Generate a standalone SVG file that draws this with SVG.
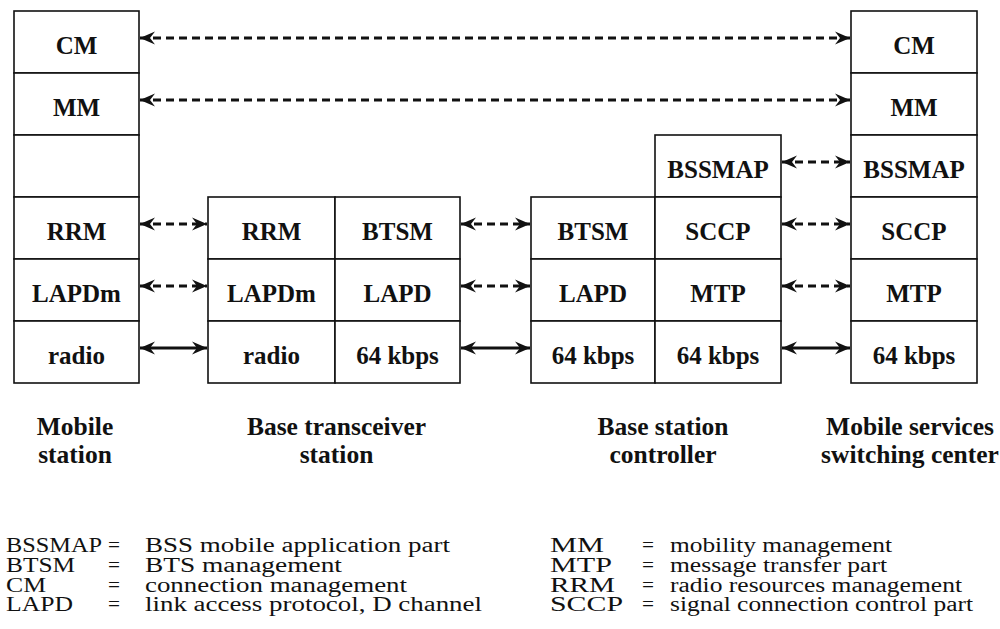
<svg xmlns="http://www.w3.org/2000/svg" width="1000" height="629" viewBox="0 0 1000 629">
<defs>
<style>
.box{fill:#fff;stroke:#111;stroke-width:1.6}
.lbl{font-family:"Liberation Serif","Times New Roman",serif;font-weight:bold;font-size:25px;text-anchor:middle;fill:#111}
.cap{font-family:"Liberation Serif","Times New Roman",serif;font-weight:bold;font-size:25.5px;text-anchor:middle;fill:#111}
.leg{font-family:"Liberation Serif","Times New Roman",serif;font-size:20.5px;fill:#111}
.dash{stroke:#111;stroke-width:3;stroke-dasharray:8 5;fill:none}
.solid{stroke:#111;stroke-width:3;fill:none}
</style>
<marker id="ah" viewBox="-16 -8 18 16" refX="0" refY="0" markerWidth="18" markerHeight="16" markerUnits="userSpaceOnUse" orient="auto-start-reverse">
<path d="M0,0 L-15,-6.5 L-10,0 L-15,6.5 Z" fill="#111" stroke="none"/>
</marker>
</defs>
<rect width="1000" height="629" fill="#fff"/>

<g id="ms">
<rect class="box" x="14" y="11" width="125" height="62"/>
<rect class="box" x="14" y="73" width="125" height="62"/>
<rect class="box" x="14" y="135" width="125" height="62"/>
<rect class="box" x="14" y="197" width="125" height="62"/>
<rect class="box" x="14" y="259" width="125" height="62"/>
<rect class="box" x="14" y="321" width="125" height="62"/>
<text class="lbl" x="76.5" y="54">CM</text>
<text class="lbl" x="76.5" y="116">MM</text>
<text class="lbl" x="76.5" y="240">RRM</text>
<text class="lbl" x="76.5" y="302">LAPDm</text>
<text class="lbl" x="76.5" y="364">radio</text>
<text class="cap" x="75" y="435">Mobile</text>
<text class="cap" x="75" y="463">station</text>
</g>

<g id="bts">
<rect class="box" x="208" y="197" width="127" height="62"/>
<rect class="box" x="335" y="197" width="125" height="62"/>
<rect class="box" x="208" y="259" width="127" height="62"/>
<rect class="box" x="335" y="259" width="125" height="62"/>
<rect class="box" x="208" y="321" width="127" height="62"/>
<rect class="box" x="335" y="321" width="125" height="62"/>
<text class="lbl" x="271.5" y="240">RRM</text>
<text class="lbl" x="397.5" y="240">BTSM</text>
<text class="lbl" x="271.5" y="302">LAPDm</text>
<text class="lbl" x="397.5" y="302">LAPD</text>
<text class="lbl" x="271.5" y="364">radio</text>
<text class="lbl" x="397.5" y="364">64 kbps</text>
<text class="cap" x="336.5" y="435">Base transceiver</text>
<text class="cap" x="336.5" y="463">station</text>
</g>

<g id="bsc">
<rect class="box" x="655" y="135" width="126" height="62"/>
<rect class="box" x="531" y="197" width="124" height="62"/>
<rect class="box" x="655" y="197" width="126" height="62"/>
<rect class="box" x="531" y="259" width="124" height="62"/>
<rect class="box" x="655" y="259" width="126" height="62"/>
<rect class="box" x="531" y="321" width="124" height="62"/>
<rect class="box" x="655" y="321" width="126" height="62"/>
<text class="lbl" x="718" y="178">BSSMAP</text>
<text class="lbl" x="593" y="240">BTSM</text>
<text class="lbl" x="718" y="240">SCCP</text>
<text class="lbl" x="593" y="302">LAPD</text>
<text class="lbl" x="718" y="302">MTP</text>
<text class="lbl" x="593" y="364">64 kbps</text>
<text class="lbl" x="718" y="364">64 kbps</text>
<text class="cap" x="663" y="435">Base station</text>
<text class="cap" x="663" y="463">controller</text>
</g>

<g id="msc">
<rect class="box" x="851" y="11" width="126" height="62"/>
<rect class="box" x="851" y="73" width="126" height="62"/>
<rect class="box" x="851" y="135" width="126" height="62"/>
<rect class="box" x="851" y="197" width="126" height="62"/>
<rect class="box" x="851" y="259" width="126" height="62"/>
<rect class="box" x="851" y="321" width="126" height="62"/>
<text class="lbl" x="914" y="54">CM</text>
<text class="lbl" x="914" y="116">MM</text>
<text class="lbl" x="914" y="178">BSSMAP</text>
<text class="lbl" x="914" y="240">SCCP</text>
<text class="lbl" x="914" y="302">MTP</text>
<text class="lbl" x="914" y="364">64 kbps</text>
<text class="cap" x="910" y="435">Mobile services</text>
<text class="cap" x="910" y="463">switching center</text>
</g>

<g id="connectors">
<line class="dash" x1="140" y1="38" x2="850" y2="38" marker-start="url(#ah)" marker-end="url(#ah)"/>
<line class="dash" x1="140" y1="100" x2="850" y2="100" marker-start="url(#ah)" marker-end="url(#ah)"/>
<line class="dash" x1="140" y1="224" x2="207" y2="224" marker-start="url(#ah)" marker-end="url(#ah)"/>
<line class="dash" x1="140" y1="286" x2="207" y2="286" marker-start="url(#ah)" marker-end="url(#ah)"/>
<line class="solid" x1="140" y1="348" x2="207" y2="348" marker-start="url(#ah)" marker-end="url(#ah)"/>
<line class="dash" x1="461" y1="224" x2="530" y2="224" marker-start="url(#ah)" marker-end="url(#ah)"/>
<line class="dash" x1="461" y1="286" x2="530" y2="286" marker-start="url(#ah)" marker-end="url(#ah)"/>
<line class="solid" x1="461" y1="348" x2="530" y2="348" marker-start="url(#ah)" marker-end="url(#ah)"/>
<line class="dash" x1="782" y1="162" x2="850" y2="162" marker-start="url(#ah)" marker-end="url(#ah)"/>
<line class="dash" x1="782" y1="224" x2="850" y2="224" marker-start="url(#ah)" marker-end="url(#ah)"/>
<line class="dash" x1="782" y1="286" x2="850" y2="286" marker-start="url(#ah)" marker-end="url(#ah)"/>
<line class="solid" x1="782" y1="348" x2="850" y2="348" marker-start="url(#ah)" marker-end="url(#ah)"/>
</g>

<g id="legend">
<text class="leg" x="6" y="552" textLength="96" lengthAdjust="spacingAndGlyphs">BSSMAP</text>
<text class="leg" x="108" y="552" textLength="12" lengthAdjust="spacingAndGlyphs">=</text>
<text class="leg" x="145" y="552" textLength="305" lengthAdjust="spacingAndGlyphs">BSS mobile application part</text>
<text class="leg" x="6" y="572" textLength="69" lengthAdjust="spacingAndGlyphs">BTSM</text>
<text class="leg" x="108" y="572" textLength="12" lengthAdjust="spacingAndGlyphs">=</text>
<text class="leg" x="145" y="572" textLength="197" lengthAdjust="spacingAndGlyphs">BTS management</text>
<text class="leg" x="6" y="592" textLength="40" lengthAdjust="spacingAndGlyphs">CM</text>
<text class="leg" x="108" y="592" textLength="12" lengthAdjust="spacingAndGlyphs">=</text>
<text class="leg" x="145" y="592" textLength="262" lengthAdjust="spacingAndGlyphs">connection management</text>
<text class="leg" x="6" y="611" textLength="67" lengthAdjust="spacingAndGlyphs">LAPD</text>
<text class="leg" x="108" y="611" textLength="12" lengthAdjust="spacingAndGlyphs">=</text>
<text class="leg" x="145" y="611" textLength="337" lengthAdjust="spacingAndGlyphs">link access protocol, D channel</text>
<text class="leg" x="550" y="552" textLength="54" lengthAdjust="spacingAndGlyphs">MM</text>
<text class="leg" x="642" y="552" textLength="12" lengthAdjust="spacingAndGlyphs">=</text>
<text class="leg" x="670" y="552" textLength="222" lengthAdjust="spacingAndGlyphs">mobility management</text>
<text class="leg" x="550" y="572" textLength="62" lengthAdjust="spacingAndGlyphs">MTP</text>
<text class="leg" x="642" y="572" textLength="12" lengthAdjust="spacingAndGlyphs">=</text>
<text class="leg" x="670" y="572" textLength="217" lengthAdjust="spacingAndGlyphs">message transfer part</text>
<text class="leg" x="550" y="592" textLength="65" lengthAdjust="spacingAndGlyphs">RRM</text>
<text class="leg" x="642" y="592" textLength="12" lengthAdjust="spacingAndGlyphs">=</text>
<text class="leg" x="670" y="592" textLength="292" lengthAdjust="spacingAndGlyphs">radio resources management</text>
<text class="leg" x="550" y="611" textLength="73" lengthAdjust="spacingAndGlyphs">SCCP</text>
<text class="leg" x="642" y="611" textLength="12" lengthAdjust="spacingAndGlyphs">=</text>
<text class="leg" x="670" y="611" textLength="303" lengthAdjust="spacingAndGlyphs">signal connection control part</text>
</g>
</svg>
